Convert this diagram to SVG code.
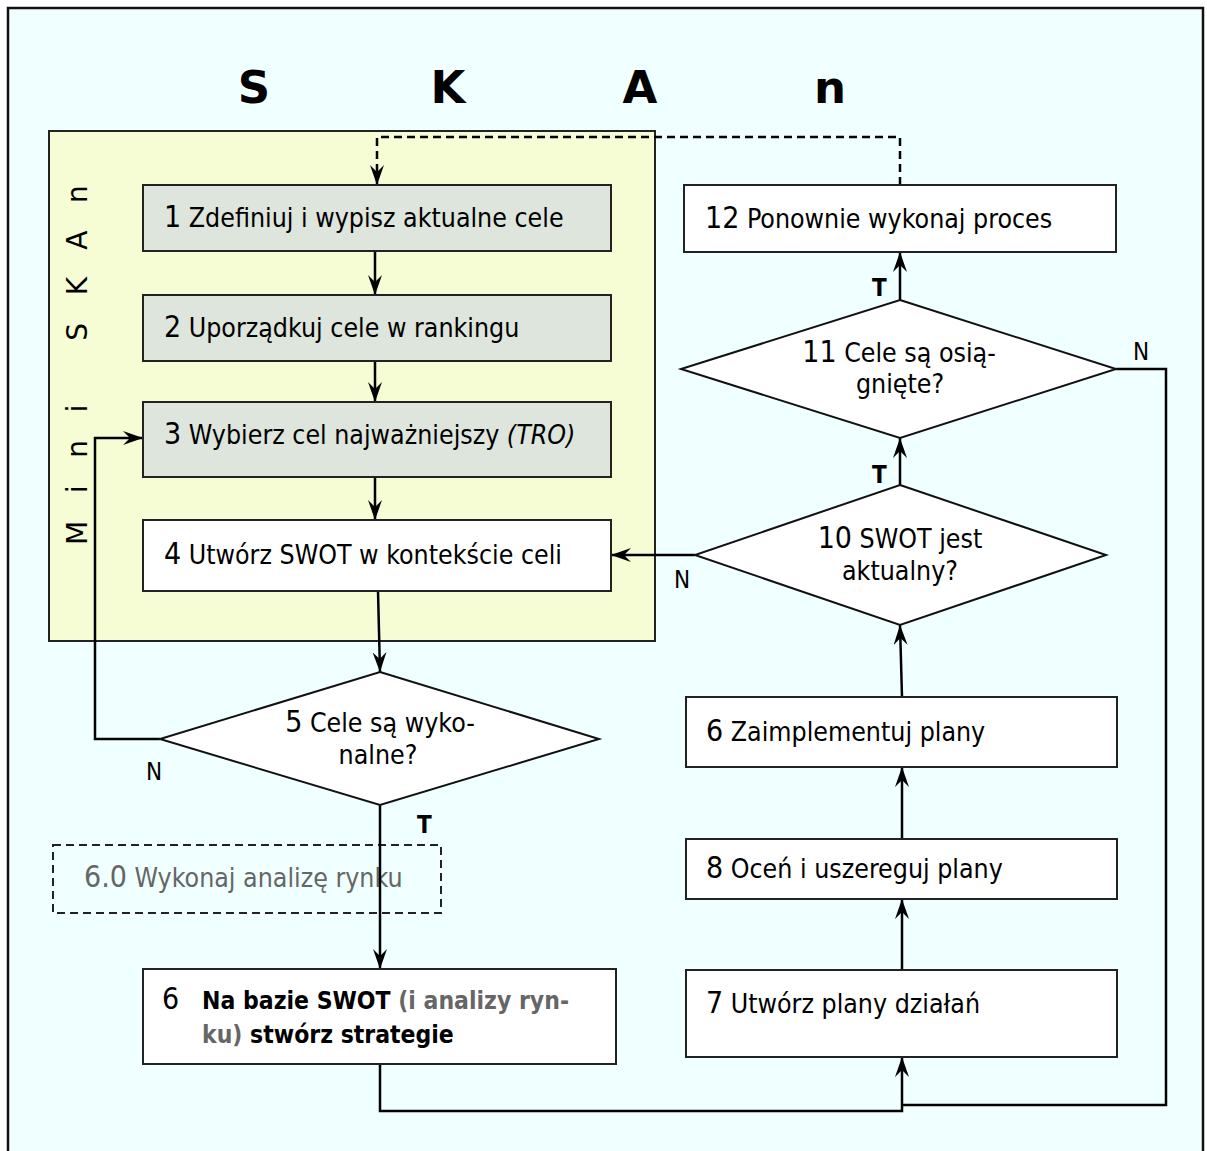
<svg xmlns="http://www.w3.org/2000/svg" width="1207" height="1151" viewBox="0 0 1207 1151">
<defs>
<style>
.t{font-family:"DejaVu Sans Condensed","DejaVu Sans",sans-serif;font-size:26.5px;fill:#000}
.num{font-size:30px}
.bold{font-weight:bold;font-size:24.5px}
.grey{fill:#666}
.box{fill:#fff;stroke:#222;stroke-width:2}
.gbox{fill:#dee5dc;stroke:#222;stroke-width:2}
.dia{fill:#fff;stroke:#111;stroke-width:2}
.con{fill:none;stroke:#000;stroke-width:2.5}
.lbl{font-family:"DejaVu Sans Condensed","DejaVu Sans",sans-serif;font-size:24px;fill:#000}
</style>
<marker id="ar" viewBox="0 0 20 14" refX="20" refY="7" markerWidth="20" markerHeight="14" markerUnits="userSpaceOnUse" orient="auto">
<path d="M0,0 L20,7 L0,14 L7,7 z" fill="#000"/>
</marker>
</defs>
<rect x="0" y="0" width="1207" height="1151" fill="#fff"/>
<rect id="frame" x="8" y="8" width="1195" height="1170" fill="#f0ffff" stroke="#111" stroke-width="2.5"/>
<text id="title" x="254 448 640 830" y="103" text-anchor="middle" style="font-family:'DejaVu Sans',sans-serif;font-size:45px;font-weight:bold">SKAn</text>
<g id="mini">
<rect x="49" y="131" width="606" height="510" fill="#f6fcd4" stroke="#222" stroke-width="2"/>
<text transform="translate(87,545) rotate(-90)" style="font-family:'DejaVu Sans',sans-serif;font-size:28px;letter-spacing:27.6px">Mini SKAn</text>
</g>
<g id="n60">
<rect x="53" y="845" width="388" height="68" fill="none" stroke="#222" stroke-width="2" stroke-dasharray="8,5"/>
<text class="t grey" x="84" y="887"><tspan class="num">6.0</tspan> Wykonaj analizę rynku</text>
</g>
<g id="connectors">
<path class="con" d="M900,185 V137 H377 V185" stroke-dasharray="8,5" marker-end="url(#ar)"/>
<path class="con" d="M375,251 V295" marker-end="url(#ar)"/>
<path class="con" d="M375,361 V402" marker-end="url(#ar)"/>
<path class="con" d="M375,477 V520" marker-end="url(#ar)"/>
<path class="con" d="M378,591 L380,672" marker-end="url(#ar)"/>
<path class="con" d="M160,739 H95 V438 H143" marker-end="url(#ar)"/>
<path class="con" d="M380,805 V969" marker-end="url(#ar)"/>
<path class="con" d="M380,1064 V1111 H902 V1057" marker-end="url(#ar)"/>
<path class="con" d="M1116,369 H1166 V1105 H902"/>
<path class="con" d="M902,970 V899" marker-end="url(#ar)"/>
<path class="con" d="M902,839 V767" marker-end="url(#ar)"/>
<path class="con" d="M902,697 L900,625" marker-end="url(#ar)"/>
<path class="con" d="M695,555 H611" marker-end="url(#ar)"/>
<path class="con" d="M900,485 V438" marker-end="url(#ar)"/>
<path class="con" d="M900,300 V252" marker-end="url(#ar)"/>
</g>
<g id="n1"><rect class="gbox" x="143" y="185" width="468" height="66"/><text class="t" x="164" y="227"><tspan class="num">1</tspan> Zdefiniuj i wypisz aktualne cele</text></g>
<g id="n2"><rect class="gbox" x="143" y="295" width="468" height="66"/><text class="t" x="164" y="337"><tspan class="num">2</tspan> Uporządkuj cele w rankingu</text></g>
<g id="n3"><rect class="gbox" x="143" y="402" width="468" height="75"/><text class="t" x="164" y="444"><tspan class="num">3</tspan> Wybierz cel najważniejszy <tspan font-style="italic">(TRO)</tspan></text></g>
<g id="n4"><rect class="box" x="143" y="520" width="468" height="71"/><text class="t" x="164" y="564"><tspan class="num">4</tspan> Utwórz SWOT w kontekście celi</text></g>
<g id="n5"><polygon class="dia" points="380,672 599,739 380,805 160,739"/><text class="t" x="380" y="732" text-anchor="middle"><tspan class="num">5</tspan> Cele są wyko-</text><text class="t" x="378" y="764" text-anchor="middle">nalne?</text></g>
<g id="n6"><rect class="box" x="143" y="969" width="473" height="95"/><text class="t" x="162" y="1009"><tspan class="num">6</tspan></text><text class="t bold" x="202" y="1009">Na bazie SWOT <tspan class="grey">(i analizy ryn-</tspan></text><text class="t bold" x="202" y="1043"><tspan class="grey">ku)</tspan> stwórz strategie</text></g>
<g id="n7"><rect class="box" x="686" y="970" width="431" height="87"/><text class="t" x="706" y="1013"><tspan class="num">7</tspan> Utwórz plany działań</text></g>
<g id="n8"><rect class="box" x="686" y="839" width="431" height="60"/><text class="t" x="706" y="878"><tspan class="num">8</tspan> Oceń i uszereguj plany</text></g>
<g id="n9"><rect class="box" x="686" y="697" width="431" height="70"/><text class="t" x="706" y="741"><tspan class="num">6</tspan> Zaimplementuj plany</text></g>
<g id="n10"><polygon class="dia" points="900,485 1106,555 900,625 695,555"/><text class="t" x="900" y="548" text-anchor="middle"><tspan class="num">10</tspan> SWOT jest</text><text class="t" x="900" y="580" text-anchor="middle">aktualny?</text></g>
<g id="n11"><polygon class="dia" points="900,300 1116,369 900,438 681,369"/><text class="t" x="899" y="362" text-anchor="middle"><tspan class="num">11</tspan> Cele są osią-</text><text class="t" x="900" y="393" text-anchor="middle">gnięte?</text></g>
<g id="n12"><rect class="box" x="684" y="185" width="432" height="67"/><text class="t" x="705" y="228"><tspan class="num">12</tspan> Ponownie wykonaj proces</text></g>
<g id="labels">
<text class="lbl" x="146" y="780">N</text>
<text class="lbl" x="417" y="833" font-weight="bold">T</text>
<text class="lbl" x="674" y="588">N</text>
<text class="lbl" x="872" y="483" font-weight="bold">T</text>
<text class="lbl" x="1133" y="360">N</text>
<text class="lbl" x="872" y="296" font-weight="bold">T</text>
</g>
</svg>
